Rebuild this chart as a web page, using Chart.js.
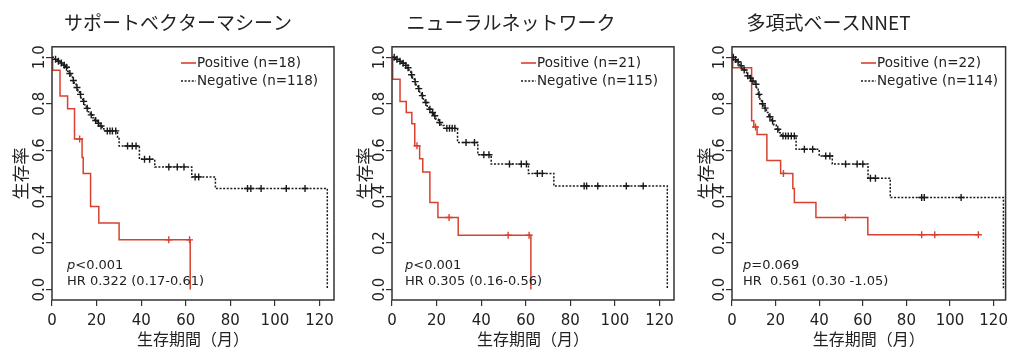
<!DOCTYPE html>
<html><head><meta charset="utf-8">
<script src="https://cdn.jsdelivr.net/npm/chart.js@4/dist/chart.umd.min.js"></script>
<style>
html,body{margin:0;padding:0;background:#fff;width:1011px;height:349px;overflow:hidden;position:relative;}
canvas{position:absolute;top:0;}
</style></head><body>
<canvas id="c1" width="356" height="349" style="left:0px"></canvas>
<canvas id="c2" width="342" height="349" style="left:340px"></canvas>
<canvas id="c3" width="365" height="349" style="left:646px"></canvas>
<script>
// ---------- data ----------
const panelTitles = ['サポートベクターマシーン', 'ニューラルネットワーク', '多項式ベースNNET'];
const xTicks = [0, 20, 40, 60, 80, 100, 120];
const yTicks = [0, 0.2, 0.4, 0.6, 0.8, 1.0];
const xTitle = '生存期間（月）';
const yTitle = '生存率';

// Panel 1: SVM
const svmPosTime = [0, 0.3, 3.6, 7.0, 10.1, 13.5, 14.0, 17.3, 21.0, 30.1, 62.0];
const svmPosSurv = [1, 0.944, 0.833, 0.778, 0.648, 0.568, 0.5, 0.357, 0.286, 0.214, 0];
const svmPosCens = [12.4, 52.4, 61.7];
const svmNegTime = [0, 1.2, 2.4, 3.6, 5.0, 6.0, 7.0, 7.8, 8.5, 9.2, 10.0, 10.8, 11.6, 12.3, 13.0, 13.8, 14.6, 15.4, 16.3, 17.2, 18.2, 19.2, 20.3, 21.5, 22.5, 23.3, 29.4, 30.1, 39.2, 46.1, 62.7, 73.3, 123.5];
const svmNegSurv = [1, 0.991, 0.983, 0.975, 0.966, 0.957, 0.94, 0.93, 0.915, 0.90, 0.885, 0.87, 0.855, 0.84, 0.825, 0.81, 0.795, 0.78, 0.765, 0.752, 0.74, 0.728, 0.716, 0.704, 0.692, 0.683, 0.65, 0.618, 0.561, 0.528, 0.485, 0.435, 0];
const svmNegCens = [1.6, 2.9, 4.2, 5.5, 6.5, 8.0, 9.6, 11.2, 12.8, 14.2, 15.8, 17.6, 19.6, 20.8, 22.0, 24.8, 26.0, 27.1, 28.6, 33.9, 36.0, 37.7, 41.5, 43.8, 52.4, 56.2, 59.2, 64.2, 65.8, 87.7, 89.2, 93.8, 105.1, 113.5];

// Panel 2: neural network
const nnPosTime = [0, 0.3, 3.6, 6.4, 8.9, 10.2, 12.4, 13.8, 17.0, 20.6, 29.7, 62.3];
const nnPosSurv = [1, 0.905, 0.810, 0.762, 0.714, 0.619, 0.563, 0.506, 0.375, 0.31, 0.234, 0];
const nnPosCens = [11.2, 25.6, 52.1, 61.5];
const nnNegTime = [0, 1.5, 3.0, 4.5, 5.8, 6.8, 7.6, 8.4, 9.2, 10.0, 10.8, 11.6, 12.4, 13.2, 14.0, 14.8, 15.7, 16.6, 17.6, 18.6, 19.7, 20.8, 22.0, 23.3, 29.4, 38.5, 44.5, 61.2, 72.6, 123.5];
const nnNegSurv = [1, 0.991, 0.983, 0.974, 0.965, 0.955, 0.94, 0.925, 0.91, 0.895, 0.88, 0.865, 0.85, 0.835, 0.82, 0.805, 0.79, 0.776, 0.762, 0.748, 0.733, 0.719, 0.706, 0.694, 0.633, 0.58, 0.54, 0.50, 0.446, 0];
const nnNegCens = [1.0, 2.2, 3.6, 5.0, 6.2, 7.2, 8.8, 10.4, 12.0, 13.6, 15.2, 17.0, 18.2, 19.2, 21.4, 24.6, 25.8, 27.0, 28.2, 33.2, 37.0, 41.2, 43.5, 52.7, 58.0, 60.3, 65.2, 67.4, 86.2, 87.3, 92.3, 105.1, 112.7];

// Panel 3: polynomial NNET
const nnetPosTime = [0, 0.3, 9.0, 10.0, 11.5, 16.0, 22.3, 27.9, 28.6, 38.5, 62.3, 113];
const nnetPosSurv = [1, 0.955, 0.727, 0.70, 0.667, 0.556, 0.50, 0.435, 0.375, 0.31, 0.236, 0.236];
const nnetPosCens = [10.8, 23.6, 52.0, 87.0, 93.0, 113.0];
const nnetNegTime = [0, 1.0, 2.2, 3.6, 5.0, 6.7, 8.0, 9.0, 10.5, 11.3, 12.0, 12.8, 13.5, 14.6, 15.8, 16.9, 18.0, 19.2, 20.3, 21.5, 22.6, 29.4, 40.0, 46.0, 62.4, 72.6, 124.5];
const nnetNegSurv = [1, 0.99, 0.98, 0.963, 0.945, 0.92, 0.91, 0.898, 0.884, 0.862, 0.84, 0.82, 0.80, 0.781, 0.762, 0.744, 0.726, 0.708, 0.69, 0.675, 0.661, 0.604, 0.575, 0.54, 0.479, 0.396, 0];
const nnetNegCens = [0.6, 1.6, 2.8, 4.2, 5.6, 7.2, 8.5, 9.6, 11.0, 12.4, 14.0, 15.2, 17.4, 18.6, 21.0, 23.4, 24.6, 25.8, 27.2, 28.6, 33.2, 37.0, 43.0, 44.9, 52.1, 57.4, 60.0, 63.5, 65.8, 87.0, 88.2, 105.1];

const legendLabels = [
  ['Positive (n=18)', 'Negative (n=118)'],
  ['Positive (n=21)', 'Negative (n=115)'],
  ['Positive (n=22)', 'Negative (n=114)']
];
const pTexts = ['<0.001', '<0.001', '=0.069'];
const hrTexts = ['HR 0.322 (0.17-0.61)', 'HR 0.305 (0.16-0.56)', 'HR  0.561 (0.30 -1.05)'];

// ---------- drawing ----------
const RED = '#d8412f';
const BLACK = '#1a1a1a';
const LATIN = '"DejaVu Sans", "Noto Sans CJK JP", sans-serif';
const CJK = '"Noto Sans CJK JP", "DejaVu Sans", sans-serif';

function survAt(times, surv, t) {
  let s = surv[0];
  for (let i = 0; i < times.length; i++) { if (times[i] <= t) s = surv[i]; }
  return s;
}
function pts(times, surv) { return times.map((t, i) => ({x: t, y: surv[i]})); }
function cpts(times, surv, cens) { return cens.map(t => ({x: t, y: survAt(times, surv, t)})); }

const kmDecor = {
  id: 'kmDecor',
  afterDraw(chart, args, o) {
    const {ctx, chartArea: a} = chart;
    ctx.save();
    ctx.strokeStyle = '#333'; ctx.lineWidth = 1.5; ctx.setLineDash([]);
    ctx.strokeRect(a.left, a.top, a.right - a.left, a.bottom - a.top);
    ctx.font = '13.5px ' + LATIN; ctx.textBaseline = 'middle'; ctx.textAlign = 'left';
    const lx = a.left + o.legendX;
    const cols = [RED, BLACK], dashes = [[], [2, 1.6]];
    o.labels.forEach((lab, i) => {
      const y = o.legendY[i];
      ctx.beginPath(); ctx.strokeStyle = cols[i]; ctx.lineWidth = 1.6; ctx.setLineDash(dashes[i]);
      ctx.moveTo(lx, y); ctx.lineTo(lx + 15, y); ctx.stroke(); ctx.setLineDash([]);
      ctx.fillStyle = '#222';
      ctx.fillText(lab, lx + 16, y);
    });
    const px = a.left + o.annX;
    ctx.font = 'italic 13px ' + LATIN;
    ctx.fillText('p', px, o.annY[0]);
    const w = ctx.measureText('p').width;
    ctx.font = '13px ' + LATIN;
    ctx.fillText(o.pText, px + w, o.annY[0]);
    ctx.fillText(o.hrText, px, o.annY[1]);
    ctx.restore();
  }
};

function makeChart(id, k, pos, neg, cfg) {
  const [pT, pS, pC] = pos, [nT, nS, nC] = neg;
  new Chart(document.getElementById(id), {
    type: 'line',
    data: {
      datasets: [
        {data: pts(nT, nS), stepped: true, borderColor: BLACK, borderWidth: 1.5, borderDash: [2, 1.6], pointRadius: 0, fill: false},
        {data: cpts(nT, nS, nC), showLine: false, pointStyle: 'cross', pointRadius: 3.5, borderColor: BLACK, pointBorderWidth: 1.4},
        {data: pts(pT, pS), stepped: true, borderColor: RED, borderWidth: 1.5, pointRadius: 0, fill: false},
        {data: cpts(pT, pS, pC), showLine: false, pointStyle: 'cross', pointRadius: 3.5, borderColor: RED, pointBorderWidth: 1.4}
      ]
    },
    options: {
      responsive: false, animation: false, events: [], devicePixelRatio: 1,
      layout: {padding: 0},
      plugins: {
        legend: {display: false}, tooltip: {enabled: false},
        title: {display: true, text: panelTitles[k], color: '#222', font: {family: CJK, size: 19, weight: 'normal'}, padding: {top: 11, bottom: 13}},
        kmDecor: {labels: legendLabels[k], legendX: 129, legendY: [63, 81], annX: cfg.annX, annY: [266, 282], pText: pTexts[k], hrText: hrTexts[k]}
      },
      scales: {
        x: {
          type: 'linear', min: 0, max: cfg.xMax,
          afterBuildTicks: s => { s.ticks = xTicks.map(v => ({value: v})); },
          afterFit: s => { s.height = 49; s.paddingLeft = 0; s.paddingRight = cfg.padR; },
          ticks: {color: '#222', font: {family: LATIN, size: 15}, padding: 6, maxRotation: 0, autoSkip: false},
          grid: {drawOnChartArea: false, drawTicks: true, tickLength: 6, color: '#333', lineWidth: 1.2},
          border: {display: false},
          title: {display: true, text: xTitle, color: '#222', font: {family: CJK, size: 16}, padding: {top: 0, bottom: 0}}
        },
        y: {
          type: 'linear', min: -0.045, max: 1.045,
          afterBuildTicks: s => { s.ticks = yTicks.map(v => ({value: v})); },
          afterFit: s => { s.width = cfg.yW; s.paddingTop = 0; s.paddingBottom = 0; },
          ticks: {color: '#222', font: {family: LATIN, size: 15}, padding: -6, minRotation: 90, maxRotation: 90, crossAlign: 'center', autoSkip: false,
                  callback: v => Number(v).toFixed(1)},
          grid: {drawOnChartArea: false, drawTicks: true, tickLength: 6, color: '#333', lineWidth: 1.2},
          border: {display: false},
          title: {display: true, text: yTitle, color: '#222', font: {family: CJK, size: 17.5}, padding: {top: cfg.yTitlePad, bottom: 0}}
        }
      }
    },
    plugins: [kmDecor]
  });
}

makeChart('c1', 0, [svmPosTime, svmPosSurv, svmPosCens], [svmNegTime, svmNegSurv, svmNegCens], {xMax: 126.5, padR: 22, yW: 52, yTitlePad: 9.5, annX: 15});
makeChart('c2', 1, [nnPosTime, nnPosSurv, nnPosCens], [nnNegTime, nnNegSurv, nnNegCens], {xMax: 126.5, padR: 8, yW: 52, yTitlePad: 13.5, annX: 13});
makeChart('c3', 2, [nnetPosTime, nnetPosSurv, nnetPosCens], [nnetNegTime, nnetNegSurv, nnetNegCens], {xMax: 125.5, padR: 3, yW: 86, yTitlePad: 48.5, annX: 11});
</script>
</body></html>
